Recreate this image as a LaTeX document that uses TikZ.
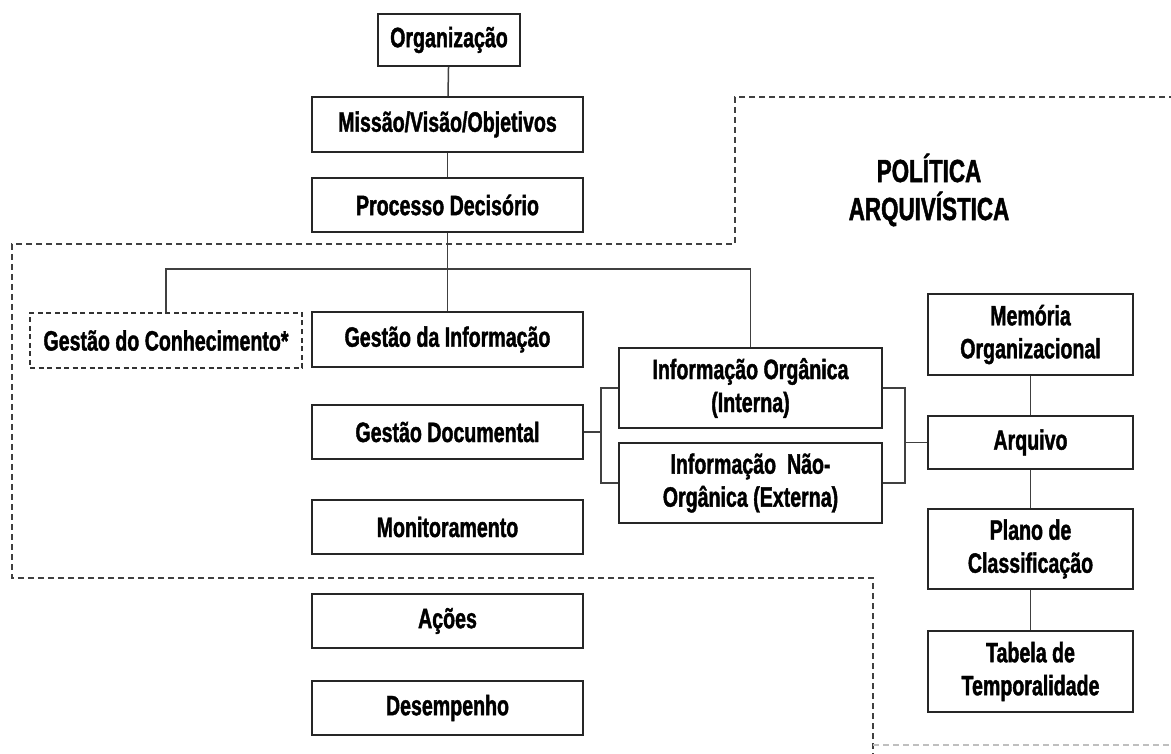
\documentclass[tikz,border=0pt]{standalone}
\usepackage{fontspec}
\setmainfont{Liberation Sans}[FakeStretch=0.70, BoldFeatures={FakeBold=1.4}]
\begin{document}
\begin{tikzpicture}[x=1pt,y=-1pt,
  box/.style={draw=black!85, line width=1.6pt, fill=white, inner sep=0pt,
    minimum width=271pt, minimum height=54pt, align=center,
    font=\fontsize{28}{33}\selectfont\bfseries},
  tallbox/.style={box, minimum height=80pt},
  dashbox/.style={box, draw=black!80, line width=1.4pt, dash pattern=on 5pt off 3.5pt},
  link/.style={draw=black!75, line width=1.5pt},
  zone/.style={draw=black!75, line width=1.4pt, dash pattern=on 6pt off 4pt},
  title/.style={align=center, font=\fontsize{32}{38}\selectfont\bfseries}]
\useasboundingbox[fill=white] (0,0) rectangle (1171,754);

% boundary of the archival policy zone
\draw[zone] (1175,97) -- (735,97) -- (735,244) -- (12,244) -- (12,578)
  -- (873,578) -- (873,758);
\draw[zone, draw=black!25] (873,745) -- (1175,745);

\node[title] (pol) at (929,190) {POLÍTICA\\ARQUIVÍSTICA};

% central column
\node[box, minimum width=142pt, minimum height=52pt] (org) at (449,40) {Organização};
\node[box, minimum height=55pt] (mvo) at (447.5,124.5) {Missão/Visão/Objetivos};
\node[box] (pd) at (447.5,205) {Processo Decisório};
\node[dashbox, minimum width=272pt, minimum height=55pt] (gc) at (166,340.5) {Gestão do Conhecimento*};
\node[box, minimum height=55pt] (gi) at (447.5,339.5) {Gestão da Informação};
\node[box] (gd) at (447.5,432) {Gestão Documental};
\node[box] (mon) at (447.5,527) {Monitoramento};
\node[box] (aco) at (447.5,621) {Ações};
\node[box] (des) at (447.5,708) {Desempenho};

% information types
\node[tallbox, minimum width=263pt] (io) at (750.5,388) {Informação Orgânica\\(Interna)};
\node[tallbox, minimum width=263pt] (ino) at (750.5,483) {Informação~ Não-\\Orgânica (Externa)};

% archive column
\node[tallbox, minimum width=205pt, minimum height=81pt] (mem) at (1030.5,334.5) {Memória\\Organizacional};
\node[box, minimum width=205pt, minimum height=53pt] (arq) at (1030.5,442.5) {Arquivo};
\node[tallbox, minimum width=205pt] (pla) at (1030.5,549) {Plano de\\Classificação};
\node[tallbox, minimum width=205pt, minimum height=81pt] (tab) at (1030.5,671.5) {Tabela de\\Temporalidade};

% connectors
\path[link] (org) -- (mvo);
\path[link] (mvo) -- (pd);
\path[link] (pd) -- (gi);
\coordinate (bus) at (0,269);
\path[link] (gc.north) -- (gc.north |- bus) -- (io.north |- bus) -- (io.north);

\coordinate (lb) at (601,432);
\path[link, line width=2pt] (gd.east) -- (lb);
\path[link] (io.west) -| (lb) |- (ino.west);

\coordinate (rb) at (905,442.5);
\path[link] (io.east) -| (rb) |- (ino.east);
\path[link] (rb) -- (arq.west);

\path[link] (mem) -- (arq);
\path[link] (arq) -- (pla);
\path[link] (pla) -- (tab);
\end{tikzpicture}
\end{document}
